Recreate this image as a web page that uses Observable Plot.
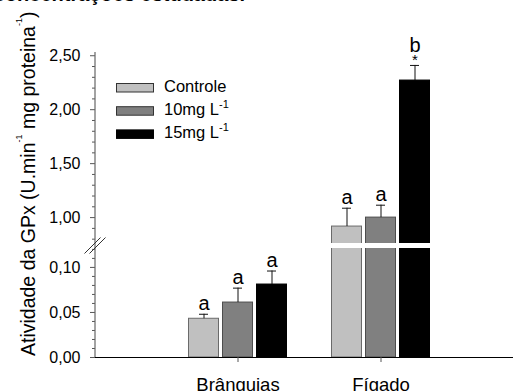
<!DOCTYPE html>
<html><head><meta charset="utf-8">
<script src="https://cdn.jsdelivr.net/npm/d3@7"></script>
<script src="https://cdn.jsdelivr.net/npm/@observablehq/plot@0.6"></script>
<style>
html,body{margin:0;padding:0;background:#fff;}
#wrap{position:relative;width:513px;height:391px;overflow:hidden;font-family:"Liberation Sans",Arial,sans-serif;}
#wrap > svg{position:absolute;left:0;top:0;}
#title{position:absolute;right:268px;top:-16px;font:bold 20px/20px "Liberation Sans",Arial,sans-serif;white-space:nowrap;color:#000;z-index:2;}
</style></head><body><div id="wrap"><div id="title">concentrações estudadas.</div></div>
<script>
// ---- data ----
const groups = ["Brânquias", "Fígado"];
const seriesNames = ["Controle", "10mg L", "15mg L"];
const seriesSup = ["", "-1", "-1"];
const controle = [0.043, 0.917];
const controleErr = [0.005, 0.17];
const mg10 = [0.061, 1.00];
const mg10Err = [0.016, 0.115];
const mg15 = [0.081, 2.27];
const mg15Err = [0.015, 0.14];
const controleLetters = ["a", "a"];
const mg10Letters = ["a", "a"];
const mg15Letters = ["a", "b"];
const mg15Marks = ["", "*"];
const yTicks = [0, 0.05, 0.10, 1.00, 1.50, 2.00, 2.50];
const yMinorTicks = [0.01, 0.02, 0.03, 0.04, 0.06, 0.07, 0.08, 0.09, 0.11, 0.12,
  0.8, 0.9, 1.1, 1.2, 1.3, 1.4, 1.6, 1.7, 1.8, 1.9, 2.1, 2.2, 2.3, 2.4];
const yTitle = ["Atividade da GPx (U.min", "-1", " mg proteina", "-1", ")"];

// ---- styles ----
const fills = ["#c0c0c0", "#808080", "#000000"];
const strokes = ["#6a6a6a", "#4d4d4d", "#000000"];
const font = "Liberation Sans, Arial, sans-serif";

const means = [controle, mg10, mg15];
const errs = [controleErr, mg10Err, mg15Err];
const letters = [controleLetters, mg10Letters, mg15Letters];
const marksSig = [["", ""], ["", ""], mg15Marks];

const rows = [];
seriesNames.forEach((s, si) => groups.forEach((g, gi) => rows.push({
  group: g, si, value: means[si][gi], err: errs[si][gi], top: means[si][gi] + errs[si][gi],
  letter: letters[si][gi], mark: marksSig[si][gi]
})));

// broken axis: lower segment [0, 0.121], upper segment [0.76, 2.53]
const yDomain = [0, 0.121, 0.76, 2.53];
const yRange = [357, 248, 243, 52];
const step = 34;
const fmt = d => d.toFixed(2).replace(".", ",");

const marks = [];
seriesNames.forEach((s, si) => {
  const data = rows.filter(r => r.si === si);
  const dx = (si - 1) * step;
  marks.push(Plot.barY(data, {x: "group", y: "value", fill: fills[si], stroke: strokes[si], strokeWidth: 1,
    insetLeft: 56.5, insetRight: 56.5, dx}));
});
// white gap through the bars (axis break)
marks.push((index, scales, values, dim) => {
  const y0 = scales.y(yDomain[1]), y1 = scales.y(yDomain[2]);
  const g = d3.create("svg:g");
  g.append("rect").attr("x", dim.marginLeft + 1).attr("y", Math.min(y0, y1))
    .attr("width", dim.width - dim.marginLeft - dim.marginRight).attr("height", Math.abs(y0 - y1)).attr("fill", "white");
  return g.node();
});
seriesNames.forEach((s, si) => {
  const data = rows.filter(r => r.si === si);
  const dx = (si - 1) * step;
  marks.push(Plot.ruleX(data, {x: "group", y1: "value", y2: "top", dx, stroke: "#111", strokeWidth: 1}));
  marks.push(Plot.tickY(data, {x: "group", y: "top", dx, insetLeft: 67, insetRight: 67, stroke: "#111", strokeWidth: 1}));
  marks.push(Plot.text(data.filter(d => !d.mark), {x: "group", y: "top", text: "letter", dx, dy: -4,
    lineAnchor: "bottom", fontSize: 20, fill: "#000"}));
  marks.push(Plot.text(data.filter(d => d.mark), {x: "group", y: "top", text: "letter", dx, dy: -13,
    lineAnchor: "bottom", fontSize: 20, fill: "#000"}));
  marks.push(Plot.text(data.filter(d => d.mark), {x: "group", y: "top", text: "mark", dx, dy: 0,
    lineAnchor: "bottom", fontSize: 15, fill: "#000"}));
});
marks.push(Plot.ruleY([0], {stroke: "#000", strokeWidth: 1}));
marks.push(Plot.axisX({tickSize: 5, tickPadding: 15, fontSize: 18.5, label: null, stroke: "#555"}));
marks.push(Plot.axisY({ticks: yTicks, tickFormat: fmt, tickSize: 5, tickPadding: 10, fontSize: 16, label: null, stroke: "#555"}));
marks.push(Plot.axisY({ticks: yMinorTicks, tickFormat: () => "", tickSize: 3, label: null, stroke: "#555"}));
// y axis line and break symbol
marks.push((index, scales, values, dim) => {
  const x = dim.marginLeft;
  const yb = (scales.y(yDomain[1]) + scales.y(yDomain[2])) / 2;
  const g = d3.create("svg:g");
  g.append("line").attr("x1", x).attr("x2", x).attr("y1", scales.y(yDomain[3])).attr("y2", scales.y(0))
    .attr("stroke", "#666").attr("stroke-width", 1.2);
  [-2.5, 2.5].forEach(o => {
    g.append("line").attr("x1", x + o - 8).attr("y1", yb + 8).attr("x2", x + o + 8).attr("y2", yb - 8)
      .attr("stroke", "#333").attr("stroke-width", 1);
  });
  return g.node();
});

const chart = Plot.plot({
  width: 513, height: 391,
  marginLeft: 95, marginRight: 0, marginTop: 52, marginBottom: 34,
  style: {fontFamily: font, fontSize: "16px", background: "transparent", color: "#000"},
  x: {domain: groups, range: [166, 452], padding: 0},
  y: {type: "linear", domain: yDomain, range: yRange},
  marks
});
const wrap = document.getElementById("wrap");
wrap.appendChild(chart);

// overlay: y title and legend
const ov = d3.select(wrap).append("svg").attr("width", 513).attr("height", 391)
  .style("font-family", font).style("pointer-events", "none");
const t = ov.append("text").attr("transform", "translate(35,356) rotate(-90)")
  .attr("font-size", 19.5).attr("fill", "#000");
yTitle.forEach((s, i) => {
  const sup = i % 2 === 1;
  t.append("tspan").attr("font-size", sup ? 9 : 19.5).attr("dy", sup ? -13 : (i > 0 ? 13 : 0)).text(s);
});
const lg = ov.append("g").attr("transform", "translate(116,83)");
seriesNames.forEach((s, i) => {
  const y = i * 23.2;
  lg.append("rect").attr("x", 0.5).attr("y", y + 0.5).attr("width", 37).attr("height", 8.5)
    .attr("fill", fills[i]).attr("stroke", i === 2 ? "#000" : "#333").attr("stroke-width", 1);
  const tx = lg.append("text").attr("x", 48).attr("y", y + 9).attr("font-size", 16.5).attr("fill", "#000");
  tx.append("tspan").text(s);
  if (seriesSup[i]) tx.append("tspan").attr("font-size", 11).attr("dy", -7).text(seriesSup[i]);
});
</script></body></html>
